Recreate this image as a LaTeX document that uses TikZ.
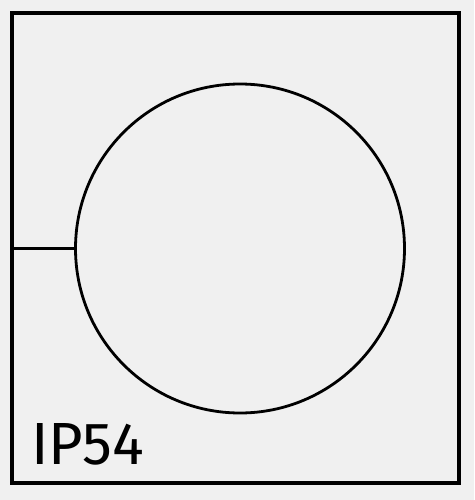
\documentclass[tikz,border=0pt]{standalone}
\usepackage{fontspec}
\setmainfont{Fira Sans}
\definecolor{panel}{HTML}{F0F0F0}
\tikzstyle{frame}=[
        draw=black,
        line width=4pt
]
\tikzstyle{wire}=[
        draw=black,
        line width=2.8pt
]
\begin{document}
\begin{tikzpicture}[x=1pt,y=-1pt]
                        \fill[panel] (0,0) rectangle (474,500);
                        \useasboundingbox (0,0) rectangle (474,500);

                        \draw[frame] (12,13) rectangle (459,483);

                        \node[circle,wire,minimum size=329pt,inner sep=0pt] (gland) at (240,248.5) {};
                        \coordinate (edge) at (12,248.5);
                        \draw[wire] (edge) -- (gland.west);

                        \node[anchor=base west,inner sep=0pt,font=\fontsize{59.5}{64}\selectfont] (rating) at (31,464) {IP54};
                    \end{tikzpicture}
\end{document}
